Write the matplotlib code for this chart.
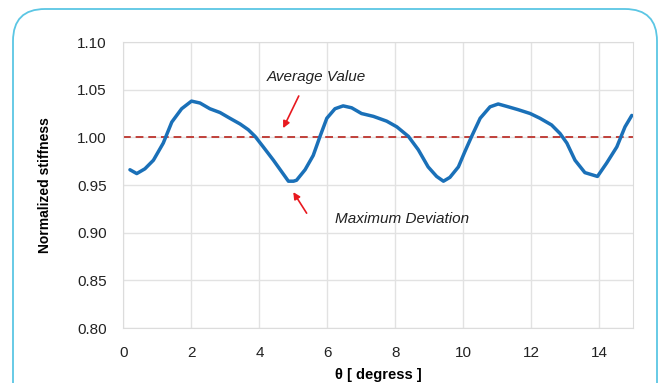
import matplotlib
matplotlib.use('Agg')
import matplotlib.pyplot as plt
from matplotlib.patches import FancyBboxPatch

plt.rcParams['font.family'] = ['Liberation Sans', 'DejaVu Sans']

# Data
theta = [0.19, 0.39, 0.63, 0.88, 1.17, 1.42, 1.71, 2.0, 2.25, 2.54, 2.84, 3.13,
         3.43, 3.67, 3.87, 4.11, 4.41, 4.65, 4.85, 5.0, 5.09, 5.34, 5.58, 5.78,
         5.98, 6.22, 6.46, 6.71, 7.0, 7.35, 7.74, 8.04, 8.38, 8.67, 8.96, 9.21,
         9.41, 9.6, 9.85, 10.04, 10.24, 10.49, 10.78, 11.02, 11.32, 11.61, 11.96,
         12.25, 12.59, 12.84, 13.04, 13.28, 13.57, 13.94, 14.21, 14.51, 14.75, 14.95]
stiffness = [0.966, 0.962, 0.967, 0.976, 0.994, 1.016, 1.030, 1.038, 1.036, 1.030,
             1.026, 1.020, 1.014, 1.008, 1.001, 0.990, 0.976, 0.964, 0.954, 0.954,
             0.955, 0.966, 0.981, 1.001, 1.020, 1.030, 1.033, 1.031, 1.025, 1.022,
             1.017, 1.011, 1.001, 0.987, 0.969, 0.959, 0.954, 0.958, 0.969, 0.985,
             1.001, 1.020, 1.032, 1.035, 1.032, 1.029, 1.025, 1.020, 1.013, 1.004,
             0.994, 0.976, 0.963, 0.959, 0.973, 0.990, 1.011, 1.023]
average_x = [0, 15]
average_y = [1.0, 1.0]

x_ticks = [0, 2, 4, 6, 8, 10, 12, 14]
y_ticks = [0.80, 0.85, 0.90, 0.95, 1.00, 1.05, 1.10]

fig = plt.figure(figsize=(6.59, 3.83), dpi=100, facecolor='white')

# rounded panel border (pixel coordinates, bottom runs off the image)
border = FancyBboxPatch((13, -60), 644, 383 - 9 + 60,
                        boxstyle="round,pad=0,rounding_size=32",
                        transform=None, facecolor='none',
                        edgecolor='#5bc6e4', linewidth=1.3, zorder=5)
fig.patches.append(border)

ax = fig.add_axes([0.1874, 0.1436, 0.7739, 0.7467])
ax.set_facecolor('none')

ax.plot(theta, stiffness, color='#1a70b8', linewidth=2.5, solid_capstyle='round',
        solid_joinstyle='round', zorder=3)
ax.plot(average_x, average_y, color='#c0403a', linestyle=(0, (4, 2.5)), linewidth=1.4, zorder=2)

ax.set_xlim(0, 15)
ax.set_ylim(0.80, 1.10)
ax.set_xticks(x_ticks)
ax.set_yticks(y_ticks)
ax.set_yticklabels([f"{v:.2f}" for v in y_ticks])
ax.tick_params(axis='both', length=0, labelsize=11, colors='#222222')
ax.tick_params(axis='x', pad=13)
ax.tick_params(axis='y', pad=12)
ax.grid(True, color='#e2e2e2', linewidth=1.0)
for s in ax.spines.values():
    s.set_color('#dcdcdc')

ax.set_xlabel("θ [ degress ]", fontsize=10.5, fontweight='bold', labelpad=6)
ax.set_ylabel("Normalized stiffness", fontsize=10, fontweight='bold', labelpad=18)

ax.annotate("", xy=(4.66, 1.007), xytext=(5.19, 1.046),
            arrowprops=dict(arrowstyle='-|>', color='#e8191f', lw=1.2, mutation_scale=10))
ax.text(5.66, 1.063, "Average Value", fontsize=11, style='italic', color='#222222',
        ha='center', va='center')

ax.annotate("", xy=(4.95, 0.945), xytext=(5.43, 0.918),
            arrowprops=dict(arrowstyle='-|>', color='#e8191f', lw=1.2, mutation_scale=10))
ax.text(8.19, 0.914, "Maximum Deviation", fontsize=11, style='italic', color='#222222',
        ha='center', va='center')

fig.savefig("out.png", dpi=100)
